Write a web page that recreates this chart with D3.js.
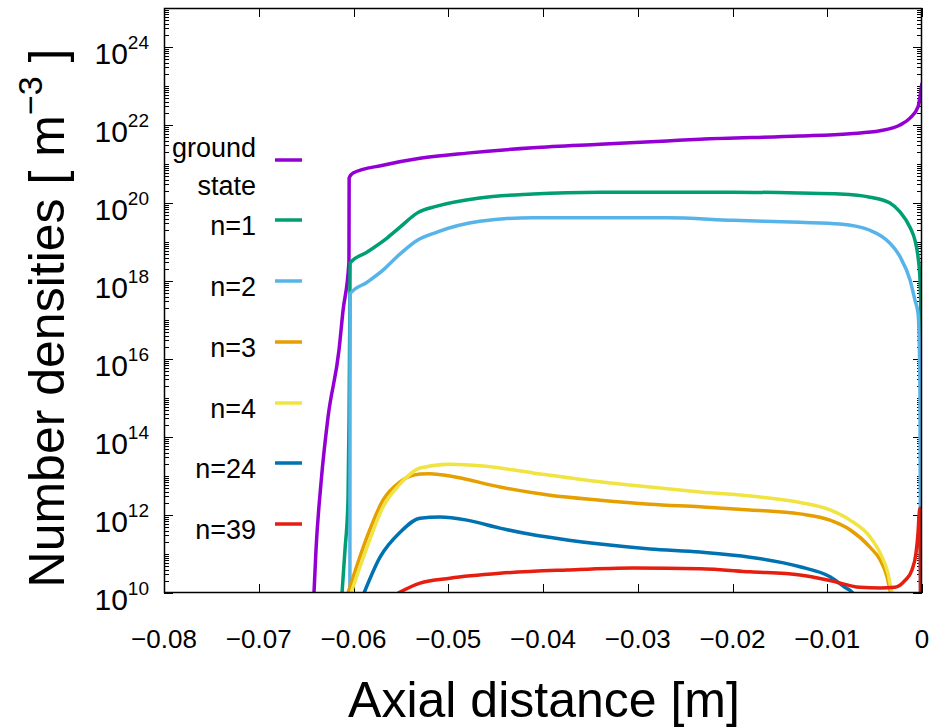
<!DOCTYPE html>
<html>
<head>
<meta charset="utf-8">
<script src="https://cdn.jsdelivr.net/npm/d3@7"></script>
<style>
  body { margin: 0; background: #fff; }
  text { font-family: "Liberation Sans", Arial, sans-serif; fill: #000; }
</style>
</head>
<body>
<div id="chart"></div>
<script>
// series: axial position [m] and number density [m^-3]
const groundX = [-0.06417, -0.06396, -0.06343, -0.06269, -0.06153, -0.06111, -0.06048, -0.06046, -0.06005, -0.05689, -0.05298, -0.04802, -0.04106, -0.03398, -0.02691, -0.02343, -0.01288, -0.00760, -0.00443, -0.00232, -0.00127, -0.00042, -0.00011, 0];
const groundY = [1e10, 1.26e11, 6.6e12, 3.2e14, 1.7e16, 1.7e17, 3.1e18, 4.4e20, 5.9e20, 9.3e20, 1.4e21, 1.9e21, 2.6e21, 3.2e21, 3.9e21, 4.3e21, 5.2e21, 6.0e21, 7.1e21, 1.0e22, 1.5e22, 2.9e22, 7.9e22, 1.2e23];

const n1X = [-0.06121, -0.06090, -0.06058, -0.06047, -0.06038, -0.06036, -0.05857, -0.05646, -0.05509, -0.05330, -0.05119, -0.04665, -0.04106, -0.03398, -0.01995, -0.01288, -0.00865, -0.00549, -0.00338, -0.00232, -0.00127, -0.00074, -0.00042, -0.00021, -0.00011, -0.00005, 0];
const n1Y = [1e10, 1.26e11, 2.4e12, 2.8e14, 3.2e17, 2.9e18, 5.5e18, 1.26e19, 2.4e19, 5.5e19, 8.3e19, 1.35e20, 1.7e20, 1.9e20, 1.9e20, 1.8e20, 1.7e20, 1.41e20, 1.0e20, 5.9e19, 2.4e19, 1.1e19, 4.2e18, 1.07e18, 1.0e17, 4.6e13, 1e10];

const n2X = [-0.06038, -0.06036, -0.05857, -0.05689, -0.05541, -0.05330, -0.05119, -0.04665, -0.04106, -0.02691, -0.01995, -0.01288, -0.00865, -0.00549, -0.00338, -0.00232, -0.00127, -0.00074, -0.00042, -0.00032, -0.00021, -0.00016];
const n2Y = [1e10, 4.7e17, 9.3e17, 1.9e18, 4.2e18, 1.1e19, 1.8e19, 3.4e19, 4.2e19, 4.2e19, 3.6e19, 3.2e19, 2.9e19, 2.0e19, 9.3e18, 4.2e18, 1.07e18, 3.2e17, 1.5e17, 5.5e16, 8.9e14, 1e10];

const n3X = [-0.06058, -0.05857, -0.05689, -0.05509, -0.05298, -0.05193, -0.04982, -0.04454, -0.03926, -0.03398, -0.02871, -0.02343, -0.01815, -0.01288, -0.00971, -0.00760, -0.00549, -0.00443, -0.00369, -0.00338, -0.00320];
const n3Y = [1e10, 2.75e11, 2.4e12, 7.1e12, 1.12e13, 1.15e13, 1.0e13, 5.2e12, 3.2e12, 2.4e12, 1.9e12, 1.62e12, 1.35e12, 1.07e12, 7.4e11, 4.2e11, 1.5e11, 7.1e10, 2.6e10, 1.2e10, 8e9];

const n4X = [-0.06026, -0.05857, -0.05689, -0.05509, -0.05298, -0.04982, -0.04633, -0.04106, -0.03398, -0.02871, -0.02343, -0.01710, -0.01288, -0.00971, -0.00760, -0.00549, -0.00443, -0.00359, -0.00317, -0.00300];
const n4Y = [1e10, 1.5e11, 1.6e12, 6.2e12, 1.6e13, 2.0e13, 1.8e13, 1.2e13, 7.1e12, 5.2e12, 3.9e12, 2.9e12, 2.1e12, 1.35e12, 7.4e11, 2.75e11, 1.07e11, 3.2e10, 1e10, 8e9];

const n24X = [-0.05889, -0.05720, -0.05509, -0.05298, -0.05087, -0.04802, -0.04454, -0.04106, -0.03747, -0.03398, -0.02871, -0.02343, -0.01815, -0.01288, -0.00971, -0.00813, -0.00728, -0.00700];
const n24Y = [1e10, 8.3e10, 3.6e11, 8.3e11, 8.9e11, 7.4e11, 4.6e11, 3.1e11, 2.3e11, 1.8e11, 1.35e11, 1.12e11, 8.3e10, 4.7e10, 2.6e10, 1.4e10, 1e10, 8e9];

const n39X = [-0.05530, -0.05298, -0.04982, -0.04454, -0.03747, -0.03050, -0.02343, -0.01815, -0.01288, -0.00971, -0.00654, -0.00443, -0.00285, -0.00179, -0.00106, -0.00063, -0.00042, -0.00032, -0.00021, -0.00016];
const n39Y = [1e10, 1.8e10, 2.4e10, 3.2e10, 3.9e10, 4.4e10, 4.2e10, 3.5e10, 2.9e10, 2.1e10, 1.4e10, 1.35e10, 1.4e10, 2.1e10, 3.9e10, 1.07e11, 3.5e11, 8.9e11, 1.5e12, 1e10];

const seriesNames = ["ground state", "n=1", "n=2", "n=3", "n=4", "n=24", "n=39"];
const seriesColors = ["#9400d3", "#009e73", "#56b4e9", "#e69f00", "#f0e442", "#0072b2", "#e51e10"];
const seriesXs = [groundX, n1X, n2X, n3X, n4X, n24X, n39X];
const seriesYs = [groundY, n1Y, n2Y, n3Y, n4Y, n24Y, n39Y];

const xTicks = [-0.08, -0.07, -0.06, -0.05, -0.04, -0.03, -0.02, -0.01, 0];
const xTickLabels = ["\u22120.08", "\u22120.07", "\u22120.06", "\u22120.05", "\u22120.04", "\u22120.03", "\u22120.02", "\u22120.01", "0"];
const yMajorExps = [10, 12, 14, 16, 18, 20, 22, 24];

const width = 936, height = 728;
const plot = {left: 164, right: 922, top: 8, bottom: 593};

const svg = d3.select("#chart").append("svg")
    .attr("width", width)
    .attr("height", height);

const x = d3.scaleLinear().domain([-0.08, 0]).range([plot.left, plot.right]);
const y = d3.scaleLog().domain([1e10, 1e25]).range([plot.bottom, plot.top]);

svg.append("clipPath").attr("id", "clip")
    .append("rect")
    .attr("x", plot.left).attr("y", plot.top)
    .attr("width", plot.right - plot.left).attr("height", plot.bottom - plot.top);

// ticks (gnuplot style, inward and mirrored)
const tickG = svg.append("g").attr("stroke", "#000").attr("stroke-width", 1);
const yMinor = [];
for (let n = 10; n < 25; n++) {
    for (let k = 1; k <= 9; k++) yMinor.push([k * Math.pow(10, n), k === 1 && yMajorExps.indexOf(n) > -1]);
}
yMinor.forEach(function(t) {
    const len = t[1] ? 9 : 5;
    const py = Math.round(y(t[0])) + 0.5;
    tickG.append("line").attr("x1", plot.left).attr("x2", plot.left + len).attr("y1", py).attr("y2", py);
    tickG.append("line").attr("x1", plot.right).attr("x2", plot.right - len).attr("y1", py).attr("y2", py);
});
xTicks.forEach(function(v) {
    const px = Math.round(x(v)) + 0.5;
    tickG.append("line").attr("x1", px).attr("x2", px).attr("y1", plot.bottom).attr("y2", plot.bottom - 9);
    tickG.append("line").attr("x1", px).attr("x2", px).attr("y1", plot.top).attr("y2", plot.top + 9);
});

// curves
const line = d3.line()
    .x(function(d) { return x(d[0]); })
    .y(function(d) { return y(d[1]); })
    .curve(d3.curveMonotoneX);

const curveG = svg.append("g").attr("clip-path", "url(#clip)");
seriesXs.forEach(function(xs, i) {
    const pts = xs.map(function(v, j) { return [v, seriesYs[i][j]]; });
    curveG.append("path")
        .datum(pts)
        .attr("d", line)
        .attr("fill", "none")
        .attr("stroke", seriesColors[i])
        .attr("stroke-width", 3.5)
        .attr("stroke-linejoin", "round");
});

// frame
svg.append("rect")
    .attr("x", plot.left + 0.5).attr("y", plot.top + 0.5)
    .attr("width", plot.right - plot.left - 1).attr("height", plot.bottom - plot.top - 1)
    .attr("fill", "none").attr("stroke", "#000").attr("stroke-width", 1.5);

// tick labels
xTicks.forEach(function(v, i) {
    svg.append("text")
        .attr("x", x(v)).attr("y", 648)
        .attr("text-anchor", "middle")
        .attr("font-size", 26)
        .text(xTickLabels[i]);
});
yMajorExps.forEach(function(e) {
    const t = svg.append("text")
        .attr("x", 149).attr("y", y(Math.pow(10, e)) + 17)
        .attr("text-anchor", "end")
        .attr("font-size", 30);
    t.append("tspan").text("10");
    t.append("tspan").attr("font-size", 19).attr("dy", -15).text(e);
});

// axis titles
svg.append("text")
    .attr("x", 544).attr("y", 717)
    .attr("text-anchor", "middle")
    .attr("font-size", 50)
    .text("Axial distance [m]");

const yt = svg.append("text")
    .attr("transform", "translate(64,318) rotate(-90)")
    .attr("text-anchor", "middle")
    .attr("font-size", 50);
yt.append("tspan").text("Number densities [ m");
yt.append("tspan").attr("font-size", 34).attr("dy", -22).text("\u22123");
yt.append("tspan").attr("dy", 22).text(" ]");

// legend
const legendY = [160, 220, 281, 342, 403, 463, 524];
seriesNames.forEach(function(name, i) {
    const ly = legendY[i];
    svg.append("line")
        .attr("x1", 275).attr("x2", 302).attr("y1", ly).attr("y2", ly)
        .attr("stroke", seriesColors[i]).attr("stroke-width", 3.5);
    if (i === 0) {
        svg.append("text").attr("x", 256).attr("y", ly - 3).attr("text-anchor", "end").attr("font-size", 27).text("ground");
        svg.append("text").attr("x", 256).attr("y", ly + 35).attr("text-anchor", "end").attr("font-size", 27).text("state");
    } else {
        svg.append("text").attr("x", 256).attr("y", ly + 15).attr("text-anchor", "end").attr("font-size", 27).text(name);
    }
});
</script>
</body>
</html>
